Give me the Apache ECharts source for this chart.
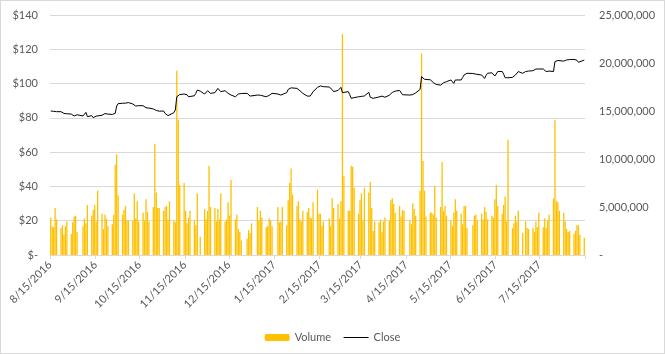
<!DOCTYPE html>
<html>
<head>
<meta charset="utf-8">
<script src="https://cdn.jsdelivr.net/npm/echarts@6/dist/echarts.min.js"></script>
<style>
  html, body { margin: 0; padding: 0; background: #fff; }
  #wrap { width: 665px; height: 354px; border: 1px solid #d9d9d9; box-sizing: border-box; }
  #chart { width: 663px; height: 352px; }
</style>
</head>
<body>
<div id="wrap"><div id="chart"></div></div>
<script>
// market holidays (no bars)
const holidays = ['2016-09-05', '2016-11-24', '2016-12-26', '2017-01-02', '2017-01-16',
  '2017-02-20', '2017-04-14', '2017-05-29', '2017-07-04'];

// daily volume, millions of shares (one line per week)
const volumeM = [
  3.9, 3.0, 2.9, 4.9, 3.7,
  2.8, 3.1, 2.1, 3.0, 3.5,
  2.2, 3.4, 4.0, 4.1, 2.4,
  3.0, 3.8, 3.3, 5.2,
  4.1, 4.7, 5.2, 3.5, 6.7,
  4.3, 2.7, 4.2, 3.8, 3.0,
  3.2, 4.2, 9.4, 10.5, 6.2,
  4.2, 4.7, 5.1, 3.6, 3.6,
  3.6, 6.4, 3.8, 5.6, 3.5,
  4.4, 3.6, 5.8, 4.5, 3.5,
  5.0, 11.6, 6.5, 4.9, 4.9,
  4.6, 5.0, 5.1, 3.7, 5.6,
  3.6, 3.4, 19.2, 14.1, 7.3,
  7.5, 4.6, 3.3, 3.9, 4.6,
  3.6, 3.1, 6.4, 1.9,
  4.8, 3.7, 4.6, 9.3, 5.0,
  4.9, 3.5, 4.8, 3.7, 6.4,
  3.5, 3.7, 5.5, 4.1, 7.8,
  3.7, 4.2, 2.7, 2.4, 1.5,
  1.7, 2.6, 2.3, 3.3,
  5.0, 3.6, 4.6, 3.9,
  2.9, 3.0, 3.8, 3.6, 3.0,
  5.0, 3.4, 3.5, 5.0,
  3.1, 5.7, 7.5, 9.0, 6.3,
  5.1, 5.6, 3.7, 3.5, 4.6,
  4.5, 4.9, 3.9, 3.8, 5.5,
  6.8, 4.3, 4.3, 3.0, 3.5,
  3.8, 3.0, 5.9, 4.9,
  5.3, 3.8, 5.6, 23.0, 8.2,
  4.6, 4.6, 9.3, 9.2, 7.0,
  4.3, 5.7, 6.4, 3.6, 7.0,
  6.5, 7.6, 4.9, 2.5, 3.5,
  3.4, 3.7, 2.4, 3.5, 3.9,
  3.6, 5.7, 5.9, 5.3, 4.4,
  5.1, 4.0, 4.7, 4.6,
  3.6, 3.2, 5.4, 4.8, 4.1,
  6.7, 21.0, 9.8, 6.7, 4.0,
  4.4, 4.4, 4.2, 7.2, 3.9,
  5.0, 9.7, 4.6, 5.1, 4.1,
  3.6, 3.0, 4.4, 5.8, 4.6,
  4.3, 3.2, 5.1, 5.1, 2.8,
  3.1, 4.1, 4.2, 3.6,
  4.3, 3.7, 5.0, 4.5, 3.7,
  4.1, 3.9, 5.8, 7.3, 5.1,
  4.3, 5.2, 6.1, 3.5, 12.0,
  2.8, 3.3, 4.1, 3.5, 4.6,
  2.3, 3.5, 2.8, 2.7,
  2.8, 2.4, 3.5, 2.9, 4.4,
  2.9, 3.8, 2.8, 3.6, 4.2,
  5.9, 14.1, 5.6, 5.5, 4.6,
  4.4, 3.5, 2.7, 2.4, 2.5,
  2.2, 2.5, 3.1, 3.1, 2.1,
  1.8
];

// daily close, $ (one line per week)
const close = [
  84.0, 84.1, 83.8, 83.7, 83.6,
  83.6, 83.5, 82.6, 82.9, 82.4,
  82.2, 82.3, 81.1, 81.5, 81.8,
  81.1, 81.8, 83.2, 80.7,
  81.3, 80.1, 80.5, 81.0, 80.9,
  81.5, 81.6, 82.5, 83.0, 82.2,
  82.0, 82.3, 82.6, 86.9, 88.3,
  88.5, 87.9, 88.6, 89.2, 88.9,
  88.1, 87.6, 86.9, 87.2, 87.1,
  87.1, 87.3, 85.9, 86.2, 85.7,
  85.2, 84.9, 84.3, 83.6, 83.9,
  84.0, 82.6, 82.4, 81.3, 82.2,
  83.0, 84.6, 92.3, 93.1, 93.6,
  93.9, 94.3, 93.5, 92.3, 92.6,
  92.9, 94.3, 96.2, 95.6,
  93.9, 94.9, 95.8, 95.0, 94.3,
  94.7, 95.7, 97.2, 96.3, 95.3,
  95.8, 95.0, 94.3, 94.0, 93.3,
  92.3, 93.1, 93.9, 94.0, 94.2,
  94.3, 93.5, 92.7, 92.9,
  93.3, 93.7, 93.2, 92.7,
  92.3, 92.8, 93.1, 93.3, 94.3,
  93.9, 93.7, 93.3, 94.3,
  94.7, 96.6, 97.3, 97.5, 97.8,
  97.2, 96.6, 95.8, 95.0, 94.3,
  92.7, 93.0, 92.7, 93.9, 95.3,
  97.8, 98.4, 98.6, 98.4, 98.2,
  98.0, 97.8, 96.5, 95.3,
  96.0, 96.6, 97.8, 94.7, 95.0,
  95.3, 93.5, 91.4, 91.2, 91.8,
  92.3, 92.0, 92.5, 93.3, 92.8,
  94.9, 92.0, 91.8, 91.4, 91.9,
  92.2, 92.4, 92.7, 92.5, 92.0,
  93.2, 94.3, 94.8, 95.1, 95.6,
  96.0, 96.6, 93.5, 92.7,
  93.3, 93.0, 93.6, 94.3, 94.6,
  96.6, 104.0, 103.2, 102.5, 102.0,
  102.2, 101.7, 100.6, 99.5, 99.5,
  99.1, 99.8, 100.5, 100.9, 101.1,
  102.1, 101.6, 100.1, 102.1, 101.8,
  102.1, 103.5, 105.0, 105.6, 106.0,
  105.9, 105.7, 105.5, 105.6,
  105.0, 104.2, 103.0, 104.8, 106.0,
  106.3, 105.8, 104.4, 105.5, 107.0,
  107.1, 105.5, 103.4, 103.4, 103.4,
  103.6, 104.0, 105.0, 106.0, 107.0,
  106.0, 107.0, 106.8, 107.3,
  107.5, 107.9, 108.5, 108.3, 108.5,
  108.5, 107.9, 107.0, 107.5, 107.3,
  107.0, 112.8, 113.7, 113.5, 113.3,
  113.1, 113.4, 113.8, 114.1, 114.0,
  114.1, 114.1, 113.6, 112.4, 112.9,
  113.7
];

// month ticks on the date axis
const tickDates = ['2016-08-15', '2016-09-15', '2016-10-15', '2016-11-15', '2016-12-15',
  '2017-01-15', '2017-02-15', '2017-03-15', '2017-04-15', '2017-05-15', '2017-06-15',
  '2017-07-15', '2017-08-15'];

const DAY = 86400000;
const START = Date.UTC(2016, 7, 15);

function dayNum(s) {
  const p = s.split('-').map(Number);
  return Math.round((Date.UTC(p[0], p[1] - 1, p[2]) - START) / DAY);
}
function keyOf(t) {
  const d = new Date(t);
  const m = d.getUTCMonth() + 1, dd = d.getUTCDate();
  return d.getUTCFullYear() + '-' + (m < 10 ? '0' : '') + m + '-' + (dd < 10 ? '0' : '') + dd;
}

// trading days: weekdays minus holidays
const tradeDays = [];
for (let t = START; tradeDays.length < close.length; t += DAY) {
  const wd = new Date(t).getUTCDay();
  if (wd === 0 || wd === 6 || holidays.includes(keyOf(t))) continue;
  tradeDays.push(keyOf(t));
}

// each day is drawn at the middle of its slot
const volData = tradeDays.map((s, i) => [dayNum(s) + 0.5, volumeM[i] * 1e6]);
const closeData = tradeDays.map((s, i) => [dayNum(s) + 0.5, close[i]]);
const tickDays = tickDates.map(dayNum);

const txt = { color: '#595959', fontFamily: 'Lato', fontSize: 11 };

const chart = echarts.init(document.getElementById('chart'));
chart.setOption({
  animation: false,
  textStyle: { fontFamily: 'Lato' },
  grid: { left: 49, right: 79, top: 14, bottom: 98 },
  legend: {
    top: 326,
    left: 'center',
    itemWidth: 25,
    itemHeight: 7,
    itemGap: 12,
    textStyle: txt,
    lineStyle: { width: 1 },
    data: [
      { name: 'Volume' },
      { name: 'Close', itemStyle: { opacity: 0 } }
    ]
  },
  xAxis: {
    type: 'value',
    min: tickDays[0],
    max: tickDays[tickDays.length - 1],
    axisLine: { lineStyle: { color: '#d9d9d9' } },
    axisTick: { show: true, length: 4, lineStyle: { color: '#d9d9d9' }, customValues: tickDays },
    splitLine: { show: false },
    axisLabel: Object.assign({}, txt, {
      rotate: 45,
      margin: 8,
      customValues: tickDays.slice(0, -1),
      formatter: function (v) {
        const d = new Date(START + Math.round(v) * DAY);
        return (d.getUTCMonth() + 1) + '/' + d.getUTCDate() + '/' + d.getUTCFullYear();
      }
    })
  },
  yAxis: [
    {
      type: 'value',
      min: 0, max: 140, interval: 20,
      axisLine: { show: false },
      axisTick: { show: false },
      splitLine: { lineStyle: { color: '#d9d9d9' } },
      axisLabel: Object.assign({}, txt, {
        margin: 12,
        formatter: v => v === 0 ? '$-' : '$' + v
      })
    },
    {
      type: 'value',
      min: 0, max: 25000000, interval: 5000000,
      axisLine: { show: false },
      axisTick: { show: false },
      splitLine: { show: false },
      axisLabel: Object.assign({}, txt, {
        margin: 14,
        formatter: v => v === 0 ? '-' : v.toLocaleString('en-US')
      })
    }
  ],
  series: [
    {
      name: 'Volume',
      type: 'bar',
      yAxisIndex: 1,
      barWidth: 1.3,
      itemStyle: { color: '#FFC000' },
      data: volData
    },
    {
      name: 'Close',
      type: 'line',
      yAxisIndex: 0,
      symbol: 'none',
      lineStyle: { color: '#000000', width: 1 },
      itemStyle: { color: '#000000' },
      data: closeData,
      z: 3
    }
  ]
});
</script>
</body>
</html>
